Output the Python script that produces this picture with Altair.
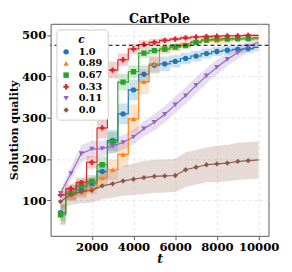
import altair as alt
import pandas as pd

# ---- data ----
t_values = [500, 1000, 1500, 2000, 2500, 3000, 3500, 4000, 4500, 5000,
            5500, 6000, 6500, 7000, 7500, 8000, 8500, 9000, 9500, 10000]
series_labels = ["1.0", "0.89", "0.67", "0.33", "0.11", "0.0"]
series_colors = ["#1f77b4", "#ff7f0e", "#2ca02c", "#d62728", "#9467bd", "#8c564b"]
series_shapes = ["circle", "triangle-up", "square", "cross", "triangle-down", "diamond"]

mean_c100 = [70, 115, 125, 140, 170, 245, 309, 367, 405, 427, 430, 436, 443, 449, 455, 460, 463, 465, 467, 470]
mean_c089 = [68, 113, 120, 130, 154, 174, 211, 297, 387, 430, 466, 470, 478, 484, 486, 487, 488, 489, 490, 491]
mean_c067 = [65, 117, 135, 146, 186, 240, 386, 411, 456, 462, 466, 471, 474, 482, 488, 490, 491, 492, 492, 493]
mean_c033 = [113, 128, 143, 192, 275, 415, 440, 466, 477, 482, 487, 490, 493, 495, 496, 497, 498, 498, 499, 499]
mean_c011 = [117, 165, 213, 224, 225, 231, 240, 253, 273, 289, 308, 331, 353, 378, 401, 422, 441, 457, 472, 483]
mean_c000 = [97, 114, 121, 124, 135, 140, 147, 151, 155, 158, 159, 160, 174, 180, 186, 188, 190, 194, 196, 198]

err_c100 = [20, 15, 15, 15, 20, 25, 25, 25, 22, 20, 18, 15, 14, 13, 12, 11, 10, 10, 10, 10]
err_c089 = [25, 15, 15, 15, 20, 25, 30, 35, 30, 20, 12, 10, 8, 7, 6, 6, 6, 5, 5, 5]
err_c067 = [25, 15, 15, 15, 20, 25, 20, 15, 12, 10, 8, 8, 7, 6, 5, 5, 5, 5, 5, 5]
err_c033 = [8, 10, 12, 15, 25, 20, 15, 12, 10, 8, 6, 5, 5, 4, 4, 3, 3, 3, 3, 3]
err_c011 = [10, 15, 20, 20, 18, 18, 18, 18, 18, 20, 20, 20, 20, 20, 18, 18, 16, 15, 14, 12]
err_c000 = [20, 25, 28, 30, 32, 34, 36, 38, 40, 40, 40, 40, 42, 42, 42, 44, 44, 45, 45, 45]

threshold = [475]
x_ticks = [2000, 4000, 6000, 8000, 10000]
y_ticks = [100, 200, 300, 400, 500]

means = [mean_c100, mean_c089, mean_c067, mean_c033, mean_c011, mean_c000]
errs = [err_c100, err_c089, err_c067, err_c033, err_c011, err_c000]

rows = []
for lab, m, e in zip(series_labels, means, errs):
    for t, v, d in zip(t_values, m, e):
        rows.append({"c": lab, "t": t, "q": v, "lo": v - d, "hi": v + d})
df = pd.DataFrame(rows)

FONT = "DejaVu Serif"
xs = alt.Scale(domain=[25, 10475], nice=False, zero=False)
ys = alt.Scale(domain=[14, 527], nice=False, zero=False)
cs = alt.Scale(domain=series_labels, range=series_colors)
ss = alt.Scale(domain=series_labels, range=series_shapes)

legend = alt.Legend(
    title="c", orient="top-left", offset=6, fillColor="white", strokeColor="#cccccc",
    cornerRadius=3, padding=5, titleFont=FONT, titleFontStyle="italic", titleFontWeight="bold",
    titleFontSize=11, titleAnchor="middle", titlePadding=2, labelFont=FONT, labelFontWeight="bold",
    labelFontSize=10, symbolSize=32, symbolStrokeWidth=0, symbolOpacity=1,
    rowPadding=2, labelOffset=8,
)

x_enc = alt.X("t:Q", scale=xs, title="t",
              axis=alt.Axis(values=x_ticks, format="d", titleFontStyle="italic"))
y_enc = alt.Y("q:Q", scale=ys, title="Solution quality", axis=alt.Axis(values=y_ticks))
col_enc = alt.Color("c:N", scale=cs, sort=series_labels, legend=legend)

base = alt.Chart(df)
step_set = ["1.0", "0.89", "0.67", "0.33"]
lin_set = ["0.11", "0.0"]


def band(sel, interp):
    return base.transform_filter(alt.FieldOneOfPredicate(field="c", oneOf=sel)).mark_area(
        interpolate=interp, opacity=0.22, clip=True
    ).encode(x=x_enc, y=alt.Y("lo:Q", scale=ys, title="Solution quality"), y2="hi:Q", color=col_enc)


def line(sel, interp):
    return base.transform_filter(alt.FieldOneOfPredicate(field="c", oneOf=sel)).mark_line(
        interpolate=interp, strokeWidth=1.2, clip=True
    ).encode(x=x_enc, y=y_enc, color=col_enc)


points = base.transform_filter(alt.datum.t < 10000).mark_point(
    filled=True, size=30, opacity=1, clip=True
).encode(
    x=x_enc, y=y_enc,
    color=col_enc,
    shape=alt.Shape("c:N", scale=ss, sort=series_labels, legend=legend),
)

rule = alt.Chart(pd.DataFrame({"y": threshold})).mark_rule(
    color="black", strokeDash=[4, 3], strokeWidth=1.2
).encode(y=alt.Y("y:Q", scale=ys))

chart = alt.layer(
    band(step_set, "step"), band(lin_set, "linear"),
    line(step_set, "step"), line(lin_set, "linear"),
    points, rule,
).properties(
    width=225, height=219,
    title=alt.TitleParams("CartPole", font=FONT, fontSize=13, fontWeight="bold",
                          anchor="middle", offset=1, dy=3, color="black"),
    autosize="none",
    padding={"left": 44, "top": 12, "right": 16, "bottom": 33},
).configure_view(
    stroke="#555555", strokeWidth=1
).configure_axis(
    labelFont=FONT, labelFontWeight="bold", labelFontSize=12, labelColor="black",
    titleFont=FONT, titleFontWeight="bold", titleColor="black",
    grid=True, gridColor="#dddddd", gridDash=[3, 3], gridWidth=0.8,
    domain=False, tickColor="#555555", tickSize=4, labelPadding=1,
).configure_axisY(
    titleFontSize=11.5, titlePadding=2
).configure_axisX(
    titleFontSize=13, titlePadding=1, labelPadding=2
)

chart.save("out.html", embed_options={"renderer": "svg", "actions": False})
